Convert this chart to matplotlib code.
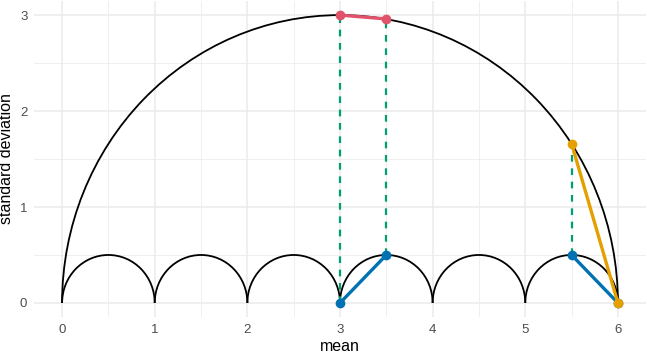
import matplotlib
matplotlib.use('Agg')
import matplotlib.pyplot as plt
from matplotlib.patches import Arc

plt.rcParams['font.family'] = ['Liberation Sans', 'DejaVu Sans']

# arcs: big one and the six small ones (center x, radius)
big_center = 3.0
big_radius = 3.0
small_centers = [0.5, 1.5, 2.5, 3.5, 4.5, 5.5]
small_radius = 0.5

# dashed verticals: x, y from, y to
dash_x = [3.0, 3.5, 5.5]
dash_lo = [0.0, 0.5, 0.5]
dash_hi = [3.0, 2.96, 1.66]

# coloured segments
red_x = [3.0, 3.5]
red_y = [3.0, 2.96]
blue1_x = [3.0, 3.5]
blue1_y = [0.0, 0.5]
blue2_x = [5.5, 6.0]
blue2_y = [0.5, 0.0]
orange_x = [5.5, 6.0]
orange_y = [1.66, 0.0]

fig = plt.figure(figsize=(6.47, 3.53), dpi=100)
ax = fig.add_axes([0.053, 0.101, 0.945, 0.897])

ax.add_patch(Arc((big_center, 0), 2 * big_radius, 2 * big_radius, theta1=0, theta2=180,
                 color='black', lw=1.3, zorder=2))
for c in small_centers:
    ax.add_patch(Arc((c, 0), 2 * small_radius, 2 * small_radius, theta1=0, theta2=180,
                     color='black', lw=1.3, zorder=2))

for x, lo, hi in zip(dash_x, dash_lo, dash_hi):
    ax.plot([x, x], [lo, hi], color='#009E73', lw=1.6, ls=(0, (3, 3)), zorder=3)

ax.plot(red_x, red_y, color='#DF536B', lw=2.4, marker='o', ms=6, zorder=4)
ax.plot(blue1_x, blue1_y, color='#0072B2', lw=2.4, marker='o', ms=6, zorder=4)
ax.plot(blue2_x, blue2_y, color='#0072B2', lw=2.4, marker='o', ms=6, zorder=4)
ax.plot(orange_x, orange_y, color='#E69F00', lw=2.4, marker='o', ms=6, zorder=5)

ax.set_xlim(-0.3, 6.3)
ax.set_ylim(-0.15, 3.15)
ax.set_xticks(range(7))
ax.set_yticks(range(4))
ax.set_xticks([i + 0.5 for i in range(6)], minor=True)
ax.set_yticks([0.5, 1.5, 2.5], minor=True)
ax.grid(which='major', color='#EBEBEB', lw=1.1)
ax.grid(which='minor', color='#EBEBEB', lw=0.55)
ax.set_axisbelow(True)
for s in ax.spines.values():
    s.set_visible(False)
ax.tick_params(which='both', length=0, labelsize=9.5, labelcolor='#4D4D4D', pad=5)
ax.set_xlabel('mean', fontsize=11.5, labelpad=2)
ax.set_ylabel('standard deviation', fontsize=11.5, labelpad=4)

fig.savefig('out.png', dpi=100)
